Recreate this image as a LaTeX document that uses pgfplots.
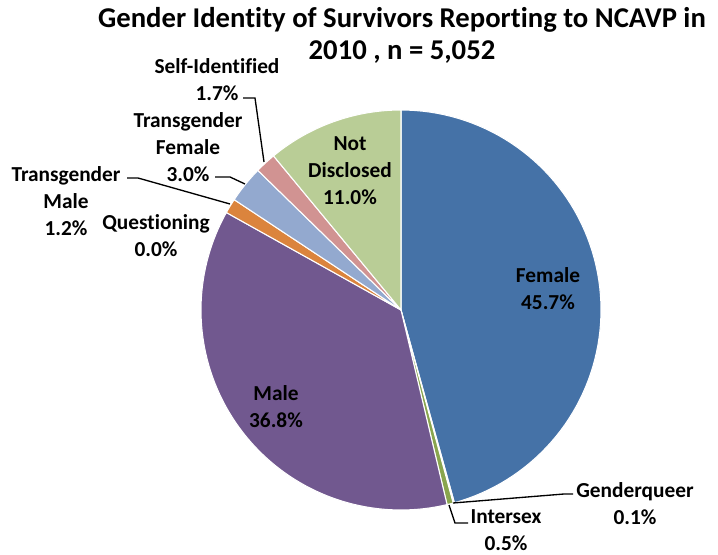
\documentclass[border=0pt]{standalone}
\usepackage{pgfplots}
\pgfplotsset{compat=1.18}
\usepackage{fontspec}
\setmainfont{Carlito}[Ligatures=NoCommon]
\definecolor{cFemale}{HTML}{4572A7}
\definecolor{cGQ}{HTML}{AA4643}
\definecolor{cInter}{HTML}{89A54E}
\definecolor{cMale}{HTML}{71588F}
\definecolor{cQuest}{HTML}{4198AF}
\definecolor{cTM}{HTML}{DB843D}
\definecolor{cTF}{HTML}{93A9CF}
\definecolor{cSI}{HTML}{D19392}
\definecolor{cND}{HTML}{B9CD96}
% pie centre and radius in picture units (1 unit = 0.75pt)
\def\cx{401}\def\cy{244}\def\rr{200}
\def\cum{90}
\newcommand{\slice}[2]{% percent, colour
  \pgfmathsetmacro{\sa}{\cum}%
  \pgfmathsetmacro{\sb}{\cum-3.6*#1}%
  \ifdim #1pt>0pt
  \edef\doit{\noexpand\addplot[draw=white, line width=0.8pt, fill=#2, domain=\sb:\sa, samples=80, variable=\noexpand\t]
    ({\cx+\rr*cos(\noexpand\t)},{\cy+\rr*sin(\noexpand\t)}) -- (axis cs:\cx,\cy) -- cycle;}%
  \doit
  \fi
  \xdef\cum{\sb}}
\begin{document}
\begin{tikzpicture}
\begin{axis}[
  scale only axis, width=538.5pt, height=415.5pt,
  xmin=0, xmax=718, ymin=0, ymax=554,
  hide axis, clip=false,
]
\path (axis cs:0,0) rectangle (axis cs:718,554);
% data (percent of survivors)
\slice{45.7}{cFemale}
\slice{0.1}{cGQ}
\slice{0.5}{cInter}
\slice{36.8}{cMale}
\slice{0.0}{cQuest}
\slice{1.2}{cTM}
\slice{3.0}{cTF}
\slice{1.7}{cSI}
\slice{11.0}{cND}
% leader lines
\addplot[black, line width=1pt, mark=none] coordinates {(243,456) (255,456) (264,392)};
\addplot[black, line width=1pt, mark=none] coordinates {(215,377) (230,377) (245,370)};
\addplot[black, line width=1pt, mark=none] coordinates {(127,376) (138,376) (230,350)};
\addplot[black, line width=1pt, mark=none] coordinates {(453,51) (564,60) (573,60)};
\addplot[black, line width=1pt, mark=none] coordinates {(449,49) (455,31) (468,31)};
% title
\node[font=\fontsize{21.5}{24}\selectfont\bfseries, align=center] at (axis cs:402,519) {Gender Identity of Survivors Reporting to NCAVP in\\2010 , n = 5,052};
% labels
\tikzset{lab/.style={font=\fontsize{16}{20.25}\selectfont\bfseries, align=center, inner sep=0pt}}
\node[lab] at (axis cs:548,265.5) {Female\\45.7\%};
\node[lab] at (axis cs:276,147.5) {Male\\36.8\%};
\node[lab] at (axis cs:350,383) {Not\\Disclosed\\11.0\%};
\node[lab] at (axis cs:635,50.5) {Genderqueer\\0.1\%};
\node[lab] at (axis cs:506,24) {Intersex\\0.5\%};
\node[lab] at (axis cs:217,474) {Self-Identified\\1.7\%};
\node[lab] at (axis cs:188,407) {Transgender\\Female\\3.0\%};
\node[lab] at (axis cs:66,353) {Transgender\\Male\\1.2\%};
\node[lab] at (axis cs:156,318.5) {Questioning\\0.0\%};
\end{axis}
\end{tikzpicture}
\end{document}
